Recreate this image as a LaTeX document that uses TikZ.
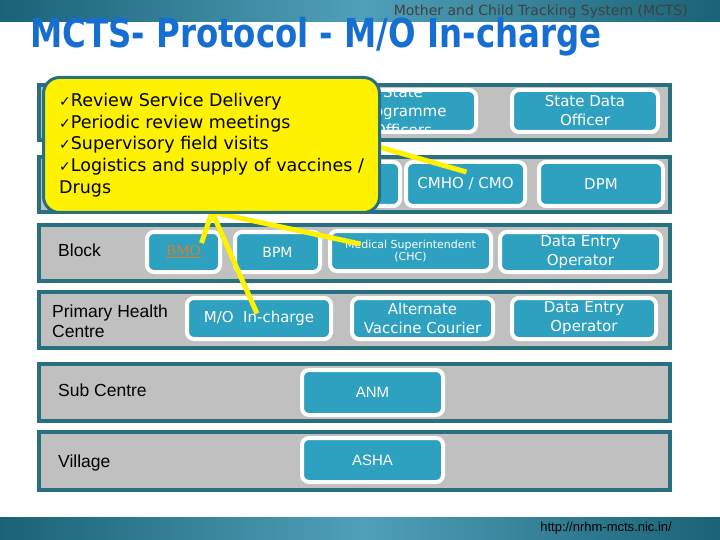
\documentclass[tikz,border=0pt]{standalone}
\usepackage{fontspec}
\setmainfont{DejaVu Sans}
\newfontfamily\labelfont{Liberation Sans}
\newfontfamily\linkfont{Liberation Serif}
\usepackage{graphicx}
\usepackage{tikz}
\usetikzlibrary{positioning}
\definecolor{rowedge}{RGB}{40,112,128}
\definecolor{rowgray}{RGB}{192,192,192}
\definecolor{boxteal}{RGB}{46,160,192}
\definecolor{titleblue}{RGB}{22,110,210}
\definecolor{bandmid}{RGB}{80,160,185}
\definecolor{banddark}{RGB}{26,98,118}
\definecolor{linkorange}{RGB}{225,125,35}

\begin{document}
\begin{tikzpicture}[x=1pt, y=-1pt,
        level/.style={draw=rowedge, fill=rowgray, line width=4pt, minimum width=631, minimum height=55, inner sep=0},
        staff/.style={draw=white, fill=boxteal, line width=4pt, rounded corners=7pt, text=white, align=center, inner sep=0, font=\fontsize{15}{19}\selectfont},
        levelname/.style={anchor=west, align=left, inner sep=0, font=\labelfont\fontsize{17.5}{20}\selectfont},
        callout/.style={draw=rowedge, fill=yellow, line width=3pt, rounded corners=16pt, align=left, minimum width=336, minimum height=135, font=\fontsize{17.5}{21.7}\selectfont},
        pointer/.style={draw=yellow, line width=5pt},
        band/.style={left color=banddark, right color=banddark, middle color=bandmid}
    ]
    \useasboundingbox (0,0) rectangle (720,540);

    % Header and footer
    \fill[band] (0,0) rectangle (720,22);
    \fill[band] (0,517) rectangle (720,540);
    \node[anchor=east, inner sep=0, text=black!75, font=\fontsize{14}{16}\selectfont] (system) at (688,12) {Mother and Child Tracking System (MCTS)};
    \node[anchor=base west, inner sep=0, text=titleblue, font=\bfseries\fontsize{40}{44}\selectfont] (title) at (30,48) {\scalebox{0.81}[1]{MCTS- Protocol - M/O In-charge}};
    \node[anchor=east, inner sep=0, font=\labelfont\fontsize{13}{15}\selectfont] (url) at (672,528) {http://nrhm-mcts.nic.in/};

    % Levels
    \node[level] (rowS) at (354.5,112.5) {};
    \node[level] (rowD) at (354.5,184.5) {};
    \node[level] (rowB) at (354.5,253) {};
    \node[level, minimum height=56] (rowP) at (354.5,320) {};
    \node[level, minimum height=57] (rowSC) at (354.5,392.5) {};
    \node[level, minimum height=58] (rowV) at (354.5,461) {};

    \node[levelname] (lblB) at (58,250) {Block};
    \node[levelname] (lblP) at (52,321) {Primary Health\\Centre};
    \node[levelname] (lblSC) at (58,390) {Sub Centre};
    \node[levelname] (lblV) at (58,463) {Village};

    % State
    \node[staff, minimum width=146, minimum height=42] (spo) at (403,111) {};
    \begin{scope}
        \clip[rounded corners=7pt] (spo.north west) rectangle (spo.south east);
        \node[text=white, align=center, inner sep=0, font=\fontsize{15}{19}\selectfont] (spotext) at (403,111) {State\\Programme\\Officers};
    \end{scope}
    \node[staff, minimum width=146, minimum height=42] (sdo) at (585,111) {State Data\\Officer};

    % District
    \node[staff, minimum width=68, minimum height=44] (dx) at (366,184) {};
    \node[staff, minimum width=119, minimum height=44] (cmho) at (465.5,184) {CMHO / CMO};
    \node[staff, minimum width=124, minimum height=44] (dpm) at (601,184) {DPM};

    % Block
    \node[staff, minimum width=73, minimum height=40] (bmo) at (183.5,252) {\linkfont\color{linkorange}\underline{BMO}};
    \node[staff, minimum width=85, minimum height=40, font=\fontsize{14}{17}\selectfont] (bpm) at (277.5,252) {BPM};
    \node[staff, minimum width=161, minimum height=40, font=\fontsize{11}{12}\selectfont] (ms) at (410.5,251) {Medical Superintendent\\(CHC)};
    \node[staff, minimum width=161, minimum height=40] (deoB) at (580.5,252) {Data Entry\\Operator};

    % Primary Health Centre
    \node[staff, minimum width=144, minimum height=41] (mo) at (259,318.5) {M/O\ \ In-charge};
    \node[staff, minimum width=141, minimum height=41] (avc) at (422.5,318.5) {Alternate\\Vaccine Courier};
    \node[staff, minimum width=144, minimum height=41] (deoP) at (584,318.5) {Data Entry\\Operator};

    % Sub Centre and Village
    \node[staff, minimum width=141, minimum height=45, font=\labelfont\fontsize{15}{17}\selectfont] (anm) at (372.5,392.5) {ANM};
    \node[staff, minimum width=141, minimum height=44, font=\labelfont\fontsize{15}{17}\selectfont] (asha) at (372.5,460) {ASHA};

    % Callout with its pointers
    \coordinate (tip) at (212,212);
    \coordinate (side) at (379,147);
    \draw[pointer] (tip) -- ([shift={(18,-9)}]bmo.center);
    \draw[pointer] (tip) -- ([shift={(-2,-5)}]mo.center);
    \draw[pointer] (tip) -- ([shift={(-50,-7)}]ms.center);
    \draw[pointer] (side) -- ([shift={(1,-12)}]cmho.center);
    \node[callout] (tasks) at (211.5,145) {{\fontsize{14}{14}\selectfont ✓}Review Service Delivery\\{\fontsize{14}{14}\selectfont ✓}Periodic review meetings\\{\fontsize{14}{14}\selectfont ✓}Supervisory field visits\\{\fontsize{14}{14}\selectfont ✓}Logistics and supply of vaccines /\\Drugs};
\end{tikzpicture}
\end{document}
